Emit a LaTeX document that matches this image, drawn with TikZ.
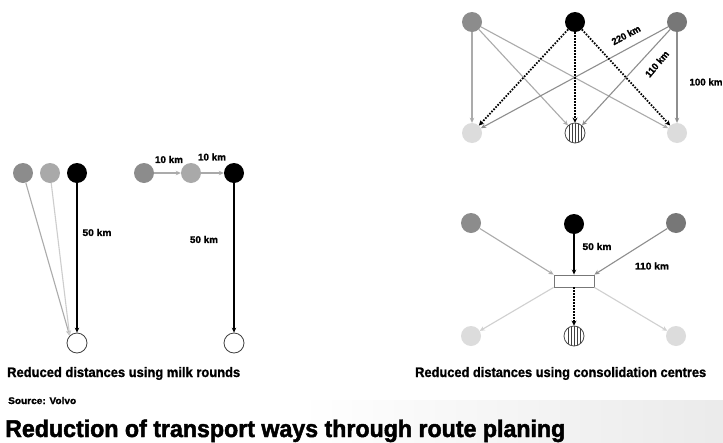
\documentclass[tikz,border=0pt]{standalone}
\usepackage{fontspec}
\setmainfont{Liberation Sans}
\newfontfamily\heavyfont{Liberation Sans}[FakeBold=1.2]
\newfontfamily\titlefont{Liberation Sans}[FakeBold=2]
\usetikzlibrary{arrows.meta}
\newcommand{\fitbox}[3]{\resizebox{#1pt}{#2pt}{\heavyfont\bfseries #3}}
\newcommand{\fittitle}[3]{\resizebox{#1pt}{#2pt}{\titlefont\bfseries #3}}
\definecolor{gA}{HTML}{8C8C8C}
\definecolor{gB}{HTML}{A9A9A9}
\definecolor{gC}{HTML}{777777}
\definecolor{gLight}{HTML}{DCDCDC}
\definecolor{lnA}{HTML}{ABABAB}
\definecolor{lnC}{HTML}{8E8E8E}
\definecolor{lnLight}{HTML}{D0D0D0}
\tikzset{
  dot/.style={circle,inner sep=0pt,minimum size=20pt,fill=#1},
  hollow/.style={circle,inner sep=0pt,minimum size=20pt,draw=black!75,line width=0.8pt,fill=white},
  hatched/.style={circle,inner sep=0pt,minimum size=20pt,draw=black!70,line width=0.8pt,fill=white,
    path picture={\foreach \i in {-6,-3,0,3,6}{\draw[black!75,line width=0.7pt] ([xshift=\i pt,yshift=-12pt]path picture bounding box.center) -- ++(0,24pt);}}},
  tip/.style={-{Stealth[length=5pt,width=4.5pt]}},
  garrow/.style={tip,draw=#1,line width=1.1pt},
  barrow/.style={tip,draw=black,line width=1.5pt},
  darrow/.style={-{Stealth[length=5pt,width=5pt]},draw=black,line width=1.8pt,dash pattern=on 1.6pt off 1.4pt},
  km/.style={inner sep=0pt},
  caption/.style={inner sep=0pt,anchor=base west},
}
\begin{document}
\begin{tikzpicture}[x=1pt,y=-1pt]
\useasboundingbox (0,0) rectangle (723,442);
\fill[white] (0,0) rectangle (723,442);
\shade[left color=white,right color=black!8] (300,400) rectangle (723,442);

% ---------- top right: direct deliveries
\node[dot=gA] (a1) at (472,22) {};
\node[dot=black] (a2) at (575,22) {};
\node[dot=gC] (a3) at (677,22) {};
\node[dot=gLight] (b1) at (472,133) {};
\node[hatched] (b2) at (575,133) {};
\node[dot=gLight] (b3) at (677,133) {};
\draw[garrow=lnA] (a1) -- (b1);
\draw[garrow=lnA] (a1) -- (b2);
\draw[garrow=lnA] (a1) -- (b3);
\draw[garrow=lnC] (a3) -- (b1);
\draw[garrow=lnC] (a3) -- (b2);
\draw[garrow=lnC] (a3) -- (b3);
\draw[darrow] (a2) -- (b1);
\draw[darrow] (a2) -- (b2);
\draw[darrow] (a2) -- (b3);
\node[km,rotate=28] (k220) at (626,35) {\fitbox{31}{7}{220 km}};
\node[km,rotate=50] (k110) at (657,64) {\fitbox{31}{7}{110 km}};
\node[km] (k100) at (706,82) {\fitbox{33}{7}{100 km}};

% ---------- bottom left: milk rounds, first variant
\node[dot=gA] (m1) at (23,173) {};
\node[dot=gB] (m2) at (50,173) {};
\node[dot=black] (m3) at (77,173) {};
\node[hollow] (m4) at (77,343) {};
\draw[garrow=lnA] (m1) -- (m4.north west);
\draw[garrow=gLight!70!gB] (m2) -- (m4.north west);
\draw[barrow] (m3) -- (m4);
\node[km] (k50a) at (97,232.5) {\fitbox{29}{7}{50 km}};

% ---------- milk rounds, second variant
\node[dot=gA] (n1) at (144,173) {};
\node[dot=gB] (n2) at (191,173) {};
\node[dot=black] (n3) at (234,173) {};
\node[hollow] (n4) at (234,343) {};
\draw[garrow=lnA] (n1) -- (n2);
\draw[garrow=gB] (n2) -- (n3);
\draw[barrow] (n3) -- (n4);
\node[km] (k10a) at (169,159.5) {\fitbox{28}{7}{10 km}};
\node[km] (k10b) at (212,157) {\fitbox{28}{7}{10 km}};
\node[km] (k50b) at (204,239.5) {\fitbox{28}{7}{50 km}};

% ---------- bottom right: consolidation centre
\node[dot=gA] (c1) at (471,223) {};
\node[dot=black] (c2) at (574,224) {};
\node[dot=gC] (c3) at (676,223) {};
\node[draw=gC,line width=0.9pt,fill=white,minimum width=40pt,minimum height=12pt,inner sep=0pt] (cc) at (574,281) {};
\node[dot=gLight] (d1) at (471,336) {};
\node[hatched] (d2) at (574,336) {};
\node[dot=gLight] (d3) at (676,336) {};
\draw[garrow=lnA] (c1) -- (cc.north west);
\draw[barrow] (c2) -- (cc.north);
\draw[garrow=lnC] (c3) -- (cc.north east);
\draw[garrow=lnLight] (cc.south west) -- (d1);
\draw[darrow] (cc.south) -- (d2);
\draw[garrow=lnLight] (cc.south east) -- (d3);
\node[km] (k50c) at (597,246.5) {\fitbox{29}{7}{50 km}};
\node[km] (k110c) at (652,266) {\fitbox{34}{7}{110 km}};

% ---------- captions
\node[caption] (cap1) at (7,377) {\fitbox{233}{10}{Reduced distances using milk rounds}};
\node[caption] (cap2) at (415,377) {\fitbox{291}{10}{Reduced distances using consolidation centres}};
\node[caption] (src) at (8,404) {\fitbox{68}{7}{Source: Volvo}};
\node[caption] (title) at (5,437) {\fittitle{560}{17.5}{Reduction of transport ways through route planing}};
\end{tikzpicture}
\end{document}
